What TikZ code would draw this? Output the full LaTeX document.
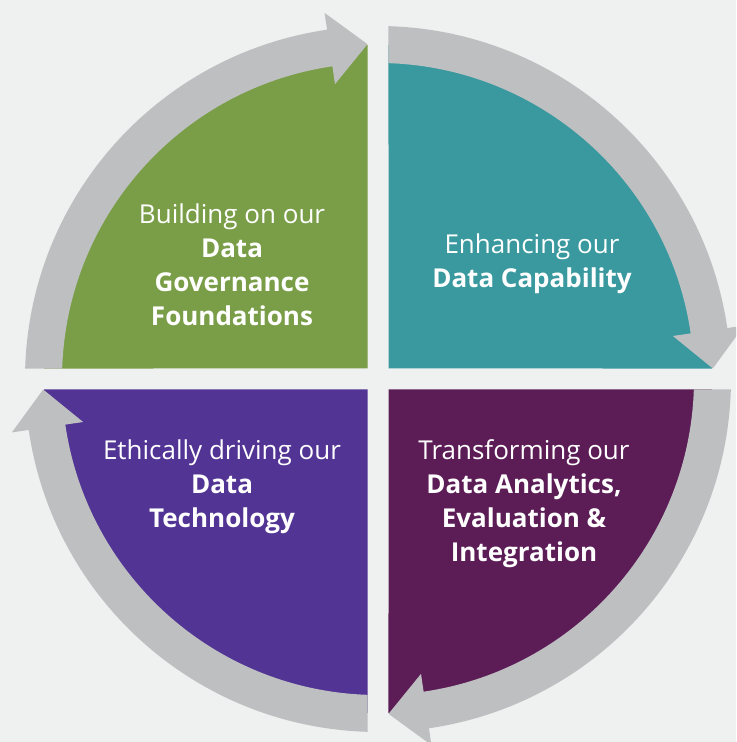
\documentclass[tikz,border=0pt]{standalone}
\usepackage{fontspec}
\setmainfont{Open Sans}
\usepackage{tikz}
\definecolor{xbg}{RGB}{239,241,240}
\definecolor{xgrey}{RGB}{190,191,193}
\definecolor{xgreen}{RGB}{122,158,72}
\definecolor{xteal}{RGB}{57,153,159}
\definecolor{xplum}{RGB}{92,29,87}
\definecolor{xviolet}{RGB}{82,52,148}

\begin{document}
\begin{tikzpicture}[x=0.5pt,y=0.5pt]
\tikzset{ring/.style={fill=xgrey,draw=none}}
\tikzset{qtext/.style={text=white,align=center,inner sep=0pt,font=\fontsize{13}{17}\selectfont}}
\def \g {10.5}
\def \rs {334}
\def \ri {316}
\def \ro {353}
\def \rt {335}
\def \tb {98.3}
\fill[xbg] (-378,-363) rectangle (358,379);
\useasboundingbox (-378,-363) rectangle (358,379);
\clip (-378,-363) rectangle (358,379);
\foreach \ang/\col in {0/xgreen,-90/xteal,-180/xplum,-270/xviolet}{
\begin{scope}[rotate=\ang]
\fill[\col] (-\g,\g) -- ({180-asin(\g/\rs)}:\rs)
  arc[start angle={180-asin(\g/\rs)}, end angle={90+asin(\g/\rs)}, radius=\rs] -- cycle;
\fill[ring] ({180-asin(\g/\ro)}:\ro)
  arc[start angle={180-asin(\g/\ro)}, end angle=\tb, radius=\ro]
  -- (\tb:370) -- ({90+asin(\g/\rt)}:\rt) -- (\tb:298) -- (\tb:\ri)
  arc[start angle=\tb, end angle={180-asin(\g/\ri)}, radius=\ri] -- cycle;
\end{scope}
}
\node[qtext] (gov) at (-146,114) {Building on our\\\textbf{Data}\\\textbf{Governance}\\\textbf{Foundations}};
\node[qtext] (cap) at (154,115) {Enhancing our\\\textbf{Data Capability}};
\node[qtext] (ana) at (146,-125) {Transforming our\\\textbf{Data Analytics,}\\\textbf{Evaluation \&}\\\textbf{Integration}};
\node[qtext] (tech) at (-156,-108) {Ethically driving our\\\textbf{Data}\\\textbf{Technology}};
\end{tikzpicture}
\end{document}
